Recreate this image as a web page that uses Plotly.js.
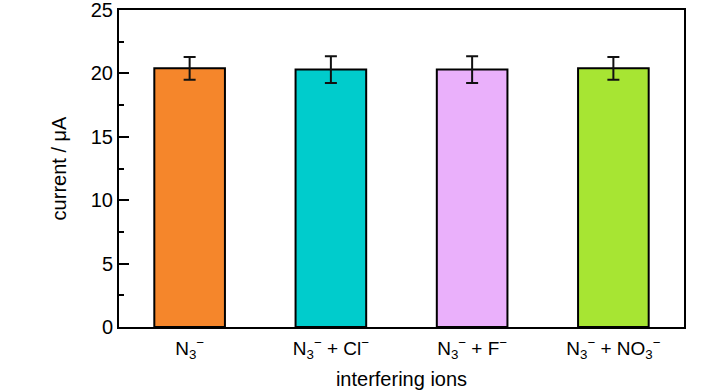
<!DOCTYPE html>
<html>
<head>
<meta charset="utf-8">
<script src="https://cdn.plot.ly/plotly-3.0.1.min.js"></script>
<style>html,body{margin:0;padding:0;background:#fff;}#chart{width:728px;height:390px;}</style>
</head>
<body>
<div id="chart"></div>
<script>
const categories = ["N<sub>3</sub><sup>−</sup>", "N<sub>3</sub><sup>−</sup> + Cl<sup>−</sup>", "N<sub>3</sub><sup>−</sup> + F<sup>−</sup>", "N<sub>3</sub><sup>−</sup> + NO<sub>3</sub><sup>−</sup>"];
const currents = [20.4, 20.3, 20.3, 20.4];
const errors = [0.9, 1.05, 1.05, 0.9];
const barColors = ["#F5862B", "#00CCCC", "#EAB0FB", "#A7E533"];
const yTickVals = [0, 5, 10, 15, 20, 25];

const trace = {
  type: "bar",
  x: [0, 1, 2, 3],
  y: currents,
  width: 0.5,
  marker: {color: barColors, line: {color: "#000", width: 2}},
  error_y: {type: "data", array: errors, visible: true, color: "#111", thickness: 2, width: 6}
};

const fam = "Liberation Sans, Arial, sans-serif";

const layout = {
  width: 728, height: 390,
  margin: {l: 119, r: 44, t: 10, b: 63},
  paper_bgcolor: "#fff", plot_bgcolor: "#fff",
  font: {family: fam, size: 19, color: "#000"},
  showlegend: false,
  xaxis: {
    range: [-0.5, 3.5],
    tickvals: [0, 1, 2, 3],
    ticktext: categories,
    ticks: "",
    ticklabelstandoff: 3,
    showline: true, linecolor: "#000", linewidth: 2, mirror: true,
    showgrid: false, zeroline: false,
    tickfont: {family: fam, size: 19, color: "#000"},
    title: {text: "interfering ions", font: {family: fam, size: 20, color: "#000"}, standoff: 11}
  },
  yaxis: {
    range: [0, 25.001],
    tickvals: yTickVals,
    ticks: "inside", ticklen: 10, tickwidth: 2, tickcolor: "#000",
    ticklabeloverflow: "allow",
    minor: {dtick: 2.5, ticks: "inside", ticklen: 5, tickwidth: 2, tickcolor: "#000", showgrid: false},
    showline: true, linecolor: "#000", linewidth: 2, mirror: true,
    showgrid: false, zeroline: false,
    tickfont: {family: fam, size: 20, color: "#000"},
    title: {text: "current / μA", font: {family: fam, size: 20, color: "#000"}, standoff: 19}
  }
};

Plotly.newPlot("chart", [trace], layout, {displayModeBar: false, staticPlot: true});
</script>
</body>
</html>
